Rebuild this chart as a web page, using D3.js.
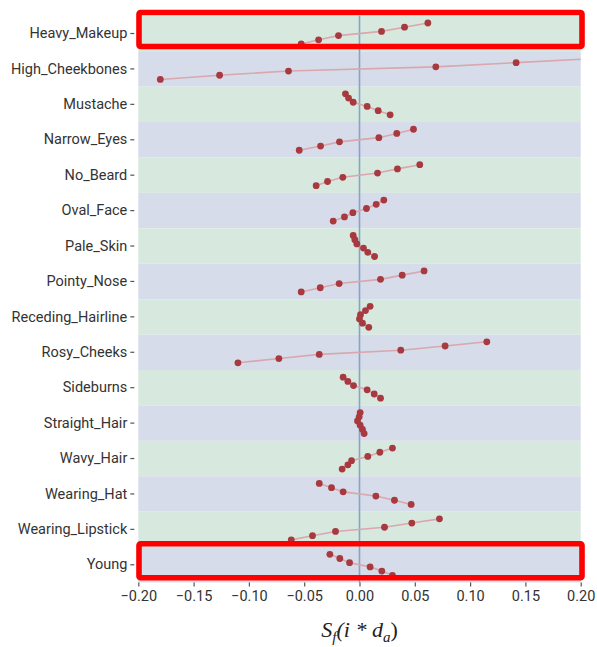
<!DOCTYPE html>
<html>
<head>
<meta charset="utf-8">
<script src="https://cdn.jsdelivr.net/npm/d3@7"></script>
<style>
  html, body { margin: 0; padding: 0; background: #ffffff; }
  svg { display: block; }
</style>
</head>
<body>
<svg id="chart" width="597" height="647"></svg>
<script>
// ---- data ----
const categories = ["Heavy_Makeup","High_Cheekbones","Mustache","Narrow_Eyes","No_Beard","Oval_Face","Pale_Skin","Pointy_Nose","Receding_Hairline","Rosy_Cheeks","Sideburns","Straight_Hair","Wavy_Hair","Wearing_Hat","Wearing_Lipstick","Young"];
// six values per attribute, ordered from top of the row to the bottom
const heavyMakeup     = [0.0618, 0.0407, 0.0199, -0.0190, -0.0370, -0.0527];
const highCheekbones  = [0.2150, 0.1416, 0.0690, -0.0642, -0.1265, -0.1801];
const mustache        = [-0.0127, -0.0099, -0.0057, 0.0069, 0.0169, 0.0277];
const narrowEyes      = [0.0488, 0.0337, 0.0175, -0.0181, -0.0352, -0.0545];
const noBeard         = [0.0545, 0.0343, 0.0163, -0.0151, -0.0289, -0.0392];
const ovalFace        = [0.0220, 0.0151, 0.0063, -0.0060, -0.0136, -0.0238];
const paleSkin        = [-0.0057, -0.0042, -0.0024, 0.0036, 0.0075, 0.0136];
const pointyNose      = [0.0584, 0.0386, 0.0190, -0.0184, -0.0355, -0.0527];
const recedingHair    = [0.0096, 0.0054, 0.0009, 0.0000, 0.0027, 0.0084];
const rosyCheeks      = [0.1151, 0.0774, 0.0373, -0.0364, -0.0729, -0.1099];
const sideburns       = [-0.0148, -0.0105, -0.0054, 0.0069, 0.0133, 0.0190];
const straightHair    = [0.0006, -0.0003, -0.0018, 0.0006, 0.0027, 0.0042];
const wavyHair        = [0.0298, 0.0184, 0.0075, -0.0072, -0.0105, -0.0157];
const wearingHat      = [-0.0364, -0.0253, -0.0148, 0.0148, 0.0316, 0.0467];
const wearingLipstick = [0.0723, 0.0473, 0.0226, -0.0217, -0.0425, -0.0617];
const young           = [-0.0268, -0.0178, -0.0090, 0.0096, 0.0202, 0.0298];
const seriesValues = [heavyMakeup, highCheekbones, mustache, narrowEyes, noBeard, ovalFace, paleSkin, pointyNose, recedingHair, rosyCheeks, sideburns, straightHair, wavyHair, wearingHat, wearingLipstick, young];
const stepIndex = [0, 1, 2, 3, 4, 5];
const xTicks = [-0.20, -0.15, -0.10, -0.05, 0.00, 0.05, 0.10, 0.15, 0.20];
const highlighted = ["Heavy_Makeup", "Young"];

// ---- layout ----
const svg = d3.select("#chart");
const pLeft = 138.3, pRight = 580.7, pTop = 15.8, pBottom = 582.5;

const x = d3.scaleLinear().domain([-0.2, 0.2]).range([pLeft, pRight]);
const y = d3.scaleBand().domain(categories).range([pTop, pBottom]).padding(0);
const off = d3.scalePoint().domain(stepIndex).range([-10.5, 10.5]);

svg.append("defs").append("clipPath").attr("id", "plotclip")
  .append("rect").attr("x", pLeft).attr("y", pTop).attr("width", pRight - pLeft).attr("height", pBottom - pTop);

// bands
svg.append("g").selectAll("rect").data(categories).join("rect")
  .attr("x", pLeft).attr("width", pRight - pLeft)
  .attr("y", d => y(d)).attr("height", y.bandwidth())
  .attr("fill", (d, i) => i % 2 === 0 ? "#d7e9df" : "#d6dcea");

// zero line
svg.append("line")
  .attr("x1", x(0)).attr("x2", x(0)).attr("y1", pTop).attr("y2", pBottom)
  .attr("stroke", "#87a3c6").attr("stroke-width", 1.6);

// series
const plot = svg.append("g").attr("clip-path", "url(#plotclip)");
const line = d3.line()
  .x(d => x(d.v))
  .y(d => d.cy);
categories.forEach((cat, ci) => {
  const cyc = y(cat) + y.bandwidth() / 2;
  const pts = seriesValues[ci].map((v, k) => ({ v, cy: cyc + off(k) }));
  plot.append("path").datum(pts)
    .attr("d", line).attr("fill", "none")
    .attr("stroke", "#d9a7ad").attr("stroke-width", 1.6);
  plot.selectAll(null).data(pts).join("circle")
    .attr("cx", d => x(d.v)).attr("cy", d => d.cy).attr("r", 3.4)
    .attr("fill", "#a7393f");
});

// y axis
const yAxis = d3.axisLeft(y).tickSize(4).tickPadding(3);
const gy = svg.append("g").attr("transform", `translate(${pLeft - 4},0)`).call(yAxis);
gy.select(".domain").remove();
gy.selectAll(".tick line").attr("stroke", "#555").attr("stroke-width", 1.2);
gy.selectAll(".tick text")
  .attr("font-family", "Roboto, 'Noto Sans', sans-serif")
  .attr("font-size", 14.5).attr("fill", "#333");

// x axis
const fmt = d => (d < 0 ? "\u2212" : "") + Math.abs(d).toFixed(2);
const xAxis = d3.axisBottom(x).tickValues(xTicks).tickFormat(fmt).tickSize(4).tickPadding(4);
const gx = svg.append("g").attr("transform", `translate(0,${pBottom})`).call(xAxis);
gx.select(".domain").remove();
gx.selectAll(".tick line").attr("stroke", "#555").attr("stroke-width", 1.2);
gx.selectAll(".tick text")
  .attr("font-family", "Roboto, 'Noto Sans', sans-serif")
  .attr("font-size", 14.5).attr("fill", "#333");

// x title
const t = svg.append("text")
  .attr("x", x(0)).attr("y", 637)
  .attr("text-anchor", "middle")
  .attr("font-family", "'Liberation Serif', 'DejaVu Serif', serif")
  .attr("font-style", "italic").attr("font-size", 22).attr("fill", "#222");
t.append("tspan").text("S");
t.append("tspan").attr("font-size", 15).attr("dy", 5).text("f");
t.append("tspan").attr("dy", -5).text("(i * d");
t.append("tspan").attr("font-size", 15).attr("dy", 5).text("a");
t.append("tspan").attr("dy", -5).attr("font-style", "normal").text(")");

// highlight boxes
svg.append("g").selectAll("rect").data(highlighted).join("rect")
  .attr("x", 139).attr("width", 443)
  .attr("y", d => y(d) + y.bandwidth() / 2 - 21)
  .attr("height", 34)
  .attr("rx", 1.5)
  .attr("fill", "none").attr("stroke", "#ff0000").attr("stroke-width", 5.6);
</script>
</body>
</html>
